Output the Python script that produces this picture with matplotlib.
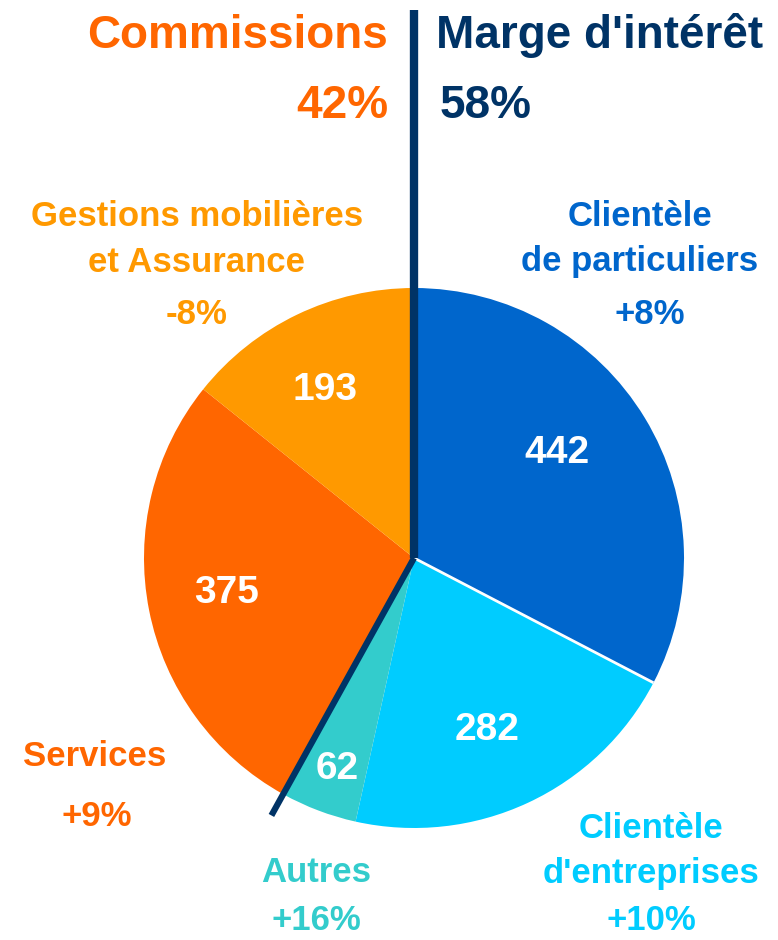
import numpy as np
import matplotlib
matplotlib.use("Agg")
import matplotlib.pyplot as plt

# ---- data ----
categories = ["Clientèle\nde particuliers", "Clientèle\nd'entreprises", "Autres",
              "Services", "Gestions mobilières\net Assurance"]
values = [442, 282, 62, 375, 193]
growth = ["+8%", "+10%", "+16%", "+9%", "-8%"]
colors = ["#0066CC", "#00CCFF", "#33CCCC", "#FF6600", "#FF9900"]
group_names = ["Commissions", "Marge d'intérêt"]
group_members = [[3, 4], [0, 1, 2]]
group_colors = ["#FF6600", "#003366"]

# ---- layout (pixel space, y up) ----
W, H = 778, 940
cx, cy, R = 414, 940 - 558, 270
DY = 3  # small vertical nudge for text

plt.rcParams["font.family"] = ["Liberation Sans", "DejaVu Sans"]

fig = plt.figure(figsize=(W / 100, H / 100), dpi=100)
ax = fig.add_axes([0, 0, 1, 1])

wedges, _ = ax.pie(values, colors=colors, startangle=90, counterclock=False,
                   center=(cx, cy), radius=R, frame=True,
                   wedgeprops=dict(linewidth=0))
ax.set_xlim(0, W)
ax.set_ylim(0, H)
ax.set_aspect("equal")
ax.axis("off")

total = float(sum(values))
cum = np.cumsum([0] + values) / total
angles = 90 - 360 * cum  # boundary angles in degrees

# white separator between first two slices
a = np.deg2rad(angles[1])
ax.plot([cx, cx + R * np.cos(a)], [cy, cy + R * np.sin(a)], color="white", lw=2,
        solid_capstyle="butt")

# navy separator between groups: vertical to top, diagonal out
a = np.deg2rad(angles[3])
ax.plot([cx, cx], [cy, H - 10], color="#003366", lw=6, solid_capstyle="butt")
ax.plot([cx, cx + 1.09 * R * np.cos(a)], [cy, cy + 1.09 * R * np.sin(a)],
        color="#003366", lw=4.5, solid_capstyle="butt")

# group headers
TS = 33
shares = [sum(values[i] for i in m) / total for m in group_members]
ax.text(388, H - 33 - DY, group_names[0], color=group_colors[0], fontsize=TS,
        fontweight="bold", ha="right", va="center")
ax.text(388, H - 103 - DY, f"{shares[0]*100:.0f}%", color=group_colors[0], fontsize=TS,
        fontweight="bold", ha="right", va="center")
ax.text(436, H - 33 - DY, group_names[1], color=group_colors[1], fontsize=TS,
        fontweight="bold", ha="left", va="center")
ax.text(440, H - 103 - DY, f"{shares[1]*100:.0f}%", color=group_colors[1], fontsize=TS,
        fontweight="bold", ha="left", va="center")

# value labels inside slices
val_pos = [(557, 450), (487, 727), (337, 766), (227, 590), (325, 387)]
for v, (x, y) in zip(values, val_pos):
    ax.text(x, H - y - DY, str(v), color="white", fontsize=28, fontweight="bold",
            ha="center", va="center")

# category labels
LS = 25
cat_pos = [(640, 239), (651, 851), (316, 873), (95, 757), (197, 239)]
gr_pos = [(650, 314), (651, 920), (316, 920), (97, 816), (197, 314)]
for name, g, c, (x, y), (gx, gy) in zip(categories, growth, colors, cat_pos, gr_pos):
    ax.text(x, H - y, name, color=c, fontsize=LS, fontweight="bold",
            ha="center", va="center", linespacing=1.5)
    ax.text(gx, H - gy, g, color=c, fontsize=LS, fontweight="bold",
            ha="center", va="center")

fig.savefig("out.png", dpi=100, facecolor="white")
